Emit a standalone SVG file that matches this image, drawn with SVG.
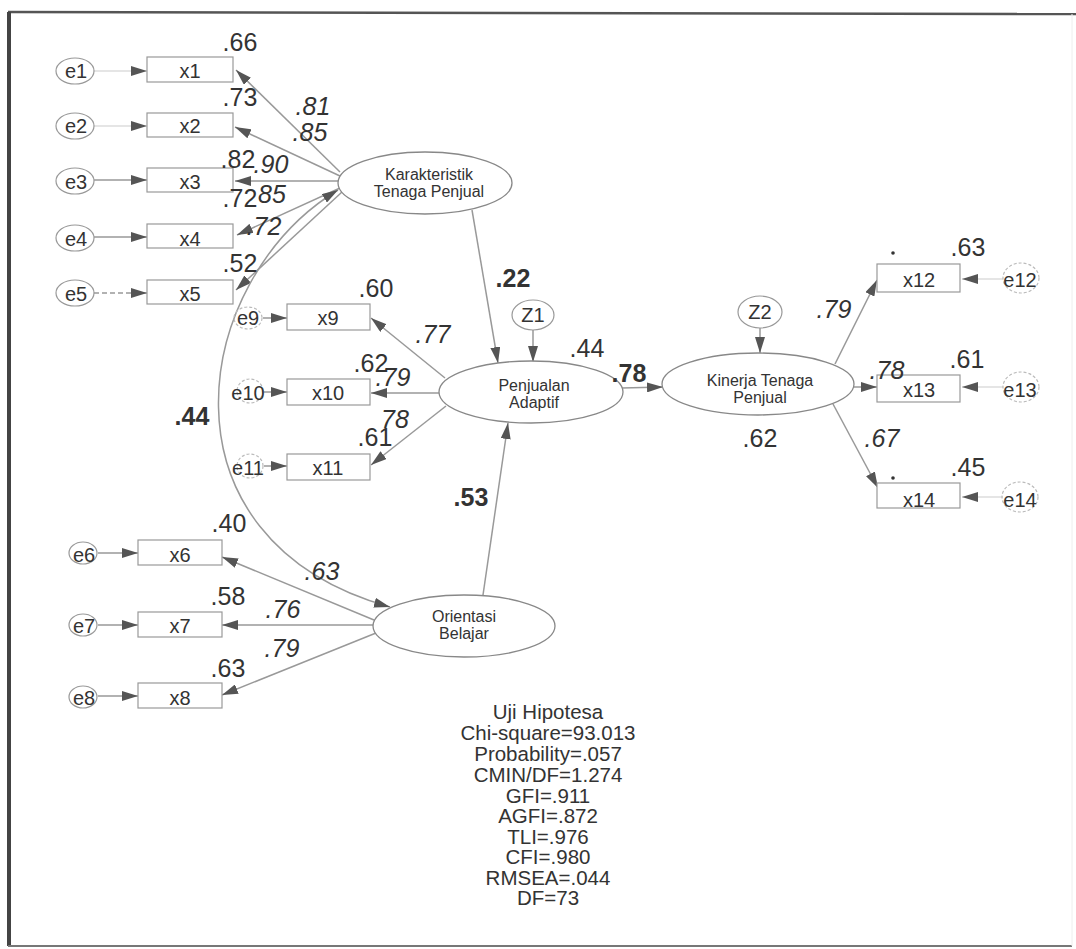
<svg xmlns="http://www.w3.org/2000/svg" width="1076" height="949" viewBox="0 0 1076 949">
<style>
text{font-family:"Liberation Sans",Arial,sans-serif;fill:#333;text-anchor:middle}
.num{font-size:25px}
.it{font-size:25px;font-style:italic}
.bd{font-size:25px;font-weight:bold}
.lbl{font-size:20px}
.lat{font-size:16px}
.stat{font-size:20.5px}
.box{fill:#fff;stroke:#999;stroke-width:1.2}
.err{fill:#fff;stroke:#999;stroke-width:1.2}
.errd{fill:none;stroke:#bbb;stroke-width:1.2;stroke-dasharray:3 2}
.ell{fill:#fff;stroke:#888;stroke-width:1.3}
.ln{fill:none;stroke:#999;stroke-width:1.5}
.lnl{fill:none;stroke:#ddd;stroke-width:1.5}
.lnd{fill:none;stroke:#999;stroke-width:1.3;stroke-dasharray:5 3}
</style>
<defs>
<marker id="ah" viewBox="0 0 16 10" refX="16" refY="5" markerWidth="16" markerHeight="10" orient="auto-start-reverse" markerUnits="userSpaceOnUse">
<path d="M0,0 L16,5 L0,10 z" fill="#555"/>
</marker>
</defs>
<rect width="1076" height="949" fill="#fff"/>
<g id="frame">
<path d="M8,12 L1076,14" stroke="#555" stroke-width="2.5" fill="none"/>
<path d="M9,12 L9,946" stroke="#444" stroke-width="4" fill="none"/>
<path d="M8,946 L1072,946" stroke="#777" stroke-width="2" fill="none"/>
<path d="M1072,14 L1072,946" stroke="#eee" stroke-width="1" fill="none"/>
</g>
<g id="connectors">
<path class="lnl" d="M94,71 L147,71" marker-end="url(#ah)"/>
<path class="lnl" d="M94,126 L147,126" marker-end="url(#ah)"/>
<path class="ln" d="M94,180 L147,180" marker-end="url(#ah)"/>
<path class="ln" d="M94,237 L147,237" marker-end="url(#ah)"/>
<path class="lnd" d="M94,293 L147,293" marker-end="url(#ah)"/>
<path class="ln" d="M340,172 L236,70" marker-end="url(#ah)"/>
<path class="ln" d="M340,176 L235,127" marker-end="url(#ah)"/>
<path class="ln" d="M338,181 L235,181" marker-end="url(#ah)"/>
<path class="ln" d="M340,188 L237,235" marker-end="url(#ah)"/>
<path class="ln" d="M342,192 L236,290" marker-end="url(#ah)"/>
<path class="ln" d="M338,190 C190,280 150,540 390,607" marker-start="url(#ah)" marker-end="url(#ah)"/>
<path class="ln" d="M263,318 L287,318" marker-end="url(#ah)"/>
<path class="ln" d="M264,392 L287,392" marker-end="url(#ah)"/>
<path class="ln" d="M264,466 L287,466" marker-end="url(#ah)"/>
<path class="ln" d="M445,378 L371,318" marker-end="url(#ah)"/>
<path class="ln" d="M439,393 L371,393" marker-end="url(#ah)"/>
<path class="ln" d="M446,406 L371,465" marker-end="url(#ah)"/>
<path class="ln" d="M472,210 L498,363" marker-end="url(#ah)"/>
<path class="ln" d="M533,330 L533,362" marker-end="url(#ah)"/>
<path class="ln" d="M483,595 L508,423" marker-end="url(#ah)"/>
<path class="ln" d="M622,388 L663,387" marker-end="url(#ah)"/>
<path class="ln" d="M760,328 L760,353" marker-end="url(#ah)"/>
<path class="ln" d="M835,364 L877,280" marker-end="url(#ah)"/>
<path class="ln" d="M853,387 L877,387" marker-end="url(#ah)"/>
<path class="ln" d="M833,404 L878,488" marker-end="url(#ah)"/>
<path class="lnl" d="M1003,279 L962,279" marker-end="url(#ah)"/>
<path class="lnl" d="M1003,387 L962,387" marker-end="url(#ah)"/>
<path class="lnl" d="M1003,497 L962,497" marker-end="url(#ah)"/>
<path class="ln" d="M374,620 L222,557" marker-end="url(#ah)"/>
<path class="ln" d="M373,625 L222,625" marker-end="url(#ah)"/>
<path class="ln" d="M376,633 L222,695" marker-end="url(#ah)"/>
<path class="ln" d="M98,553 L138,553" marker-end="url(#ah)"/>
<path class="ln" d="M98,625 L138,625" marker-end="url(#ah)"/>
<path class="ln" d="M98,696 L138,696" marker-end="url(#ah)"/>
</g>
<g id="e1"><ellipse class="err" cx="75" cy="71" rx="19" ry="13"/><text class="lbl" x="76" y="78">e1</text></g>
<g id="e2"><ellipse class="err" cx="75" cy="126" rx="19" ry="13"/><text class="lbl" x="76" y="133">e2</text></g>
<g id="e3"><ellipse class="err" cx="75" cy="181" rx="19" ry="13"/><text class="lbl" x="76" y="189">e3</text></g>
<g id="e4"><ellipse class="err" cx="75" cy="238" rx="19" ry="13"/><text class="lbl" x="76" y="246">e4</text></g>
<g id="e5"><ellipse class="err" cx="75" cy="293" rx="19" ry="13"/><text class="lbl" x="76" y="301">e5</text></g>
<g id="x1"><rect class="box" x="147" y="57" width="86" height="25"/><text class="lbl" x="190" y="78">x1</text></g>
<g id="x2"><rect class="box" x="147" y="113" width="86" height="24"/><text class="lbl" x="190" y="133">x2</text></g>
<g id="x3"><rect class="box" x="147" y="168" width="86" height="24"/><text class="lbl" x="190" y="189">x3</text></g>
<g id="x4"><rect class="box" x="147" y="224" width="86" height="24"/><text class="lbl" x="190" y="246">x4</text></g>
<g id="x5"><rect class="box" x="147" y="280" width="86" height="24"/><text class="lbl" x="190" y="301">x5</text></g>
<g id="e9"><ellipse class="errd" cx="248" cy="318" rx="14" ry="11"/><text class="lbl" x="248" y="325">e9</text></g>
<g id="e10"><ellipse class="errd" cx="250" cy="391" rx="13" ry="12"/><text class="lbl" x="248" y="400">e10</text></g>
<g id="e11"><ellipse class="errd" cx="250" cy="466" rx="13" ry="12"/><text class="lbl" x="248" y="475">e11</text></g>
<g id="x9"><rect class="box" x="287" y="304" width="83" height="26"/><text class="lbl" x="328" y="325">x9</text></g>
<g id="x10"><rect class="box" x="287" y="379" width="83" height="26"/><text class="lbl" x="328" y="400">x10</text></g>
<g id="x11"><rect class="box" x="287" y="454" width="83" height="26"/><text class="lbl" x="328" y="475">x11</text></g>
<g id="e6"><ellipse class="err" cx="83" cy="553" rx="14" ry="11"/><text class="lbl" x="84" y="562">e6</text></g>
<g id="e7"><ellipse class="err" cx="83" cy="625" rx="14" ry="11"/><text class="lbl" x="84" y="633">e7</text></g>
<g id="e8"><ellipse class="err" cx="83" cy="697" rx="14" ry="11"/><text class="lbl" x="84" y="705">e8</text></g>
<g id="x6"><rect class="box" x="138" y="540" width="84" height="25"/><text class="lbl" x="180" y="562">x6</text></g>
<g id="x7"><rect class="box" x="138" y="612" width="84" height="25"/><text class="lbl" x="180" y="633">x7</text></g>
<g id="x8"><rect class="box" x="138" y="683" width="84" height="25"/><text class="lbl" x="180" y="705">x8</text></g>
<g id="karakteristik"><ellipse class="ell" cx="425" cy="183" rx="87" ry="31"/><text class="lat" x="429" y="180">Karakteristik</text><text class="lat" x="429" y="197">Tenaga Penjual</text></g>
<g id="penjualan"><ellipse class="ell" cx="531" cy="392" rx="92" ry="31"/><text class="lat" x="534" y="391">Penjualan</text><text class="lat" x="534" y="408">Adaptif</text></g>
<g id="orientasi"><ellipse class="ell" cx="464" cy="626" rx="91" ry="31"/><text class="lat" x="464" y="622">Orientasi</text><text class="lat" x="464" y="639">Belajar</text></g>
<g id="kinerja"><ellipse class="ell" cx="758" cy="384" rx="96" ry="31"/><text class="lat" x="760" y="386">Kinerja Tenaga</text><text class="lat" x="760" y="403">Penjual</text></g>
<g id="z1"><ellipse class="err" cx="533" cy="315" rx="21" ry="15"/><text class="lbl" x="533" y="322">Z1</text></g>
<g id="z2"><ellipse class="err" cx="760" cy="312" rx="22" ry="16"/><text class="lbl" x="760" y="319">Z2</text></g>
<g id="x12"><rect class="box" x="877" y="264" width="83" height="28"/><text class="lbl" x="919" y="287">x12</text></g>
<g id="x13"><rect class="box" x="877" y="375" width="83" height="27"/><text class="lbl" x="919" y="397">x13</text></g>
<g id="x14"><rect class="box" x="877" y="483" width="83" height="25"/><text class="lbl" x="919" y="507">x14</text></g>
<g id="e12"><ellipse class="errd" cx="1021" cy="278" rx="18" ry="15"/><text class="lbl" x="1020" y="287">e12</text></g>
<g id="e13"><ellipse class="errd" cx="1021" cy="387" rx="18" ry="15"/><text class="lbl" x="1020" y="397">e13</text></g>
<g id="e14"><ellipse class="errd" cx="1020" cy="497" rx="18" ry="15"/><text class="lbl" x="1020" y="507">e14</text></g>
<g id="dots"><circle cx="893" cy="253" r="1.8" fill="#333"/><circle cx="893" cy="478" r="1.8" fill="#333"/></g>
<g id="estimates">
<text class="num" x="240" y="51">.66</text>
<text class="num" x="240" y="106">.73</text>
<text class="num" x="238" y="168">.82</text>
<text class="num" x="240" y="207">.72</text>
<text class="num" x="240" y="272">.52</text>
<text class="num" x="376" y="297">.60</text>
<text class="num" x="371" y="372">.62</text>
<text class="num" x="375" y="446">.61</text>
<text class="num" x="587" y="357">.44</text>
<text class="num" x="760" y="447">.62</text>
<text class="num" x="968" y="256">.63</text>
<text class="num" x="967" y="368">.61</text>
<text class="num" x="968" y="476">.45</text>
<text class="num" x="229" y="532">.40</text>
<text class="num" x="228" y="605">.58</text>
<text class="num" x="228" y="677">.63</text>
<text class="it" x="313" y="115">.81</text>
<text class="it" x="310" y="141">.85</text>
<text class="it" x="271" y="173">.90</text>
<text class="it" x="272" y="203">85</text>
<text class="it" x="264" y="235">.72</text>
<text class="it" x="433" y="343">.77</text>
<text class="it" x="393" y="386">.79</text>
<text class="it" x="395" y="428">78</text>
<text class="it" x="322" y="580">.63</text>
<text class="it" x="283" y="618">.76</text>
<text class="it" x="282" y="657">.79</text>
<text class="it" x="834" y="318">.79</text>
<text class="it" x="887" y="379">.78</text>
<text class="it" x="882" y="447">.67</text>
<text class="bd" x="513" y="287">.22</text>
<text class="bd" x="629" y="382">.78</text>
<text class="bd" x="192" y="425">.44</text>
<text class="bd" x="471" y="506">.53</text>
</g>
<g id="fit">
<text class="stat" x="548" y="719">Uji Hipotesa</text>
<text class="stat" x="548" y="740">Chi-square=93.013</text>
<text class="stat" x="548" y="761">Probability=.057</text>
<text class="stat" x="548" y="782">CMIN/DF=1.274</text>
<text class="stat" x="548" y="802.5">GFI=.911</text>
<text class="stat" x="548" y="823">AGFI=.872</text>
<text class="stat" x="548" y="843.5">TLI=.976</text>
<text class="stat" x="548" y="864">CFI=.980</text>
<text class="stat" x="548" y="884.5">RMSEA=.044</text>
<text class="stat" x="548" y="905">DF=73</text>
</g>
</svg>
